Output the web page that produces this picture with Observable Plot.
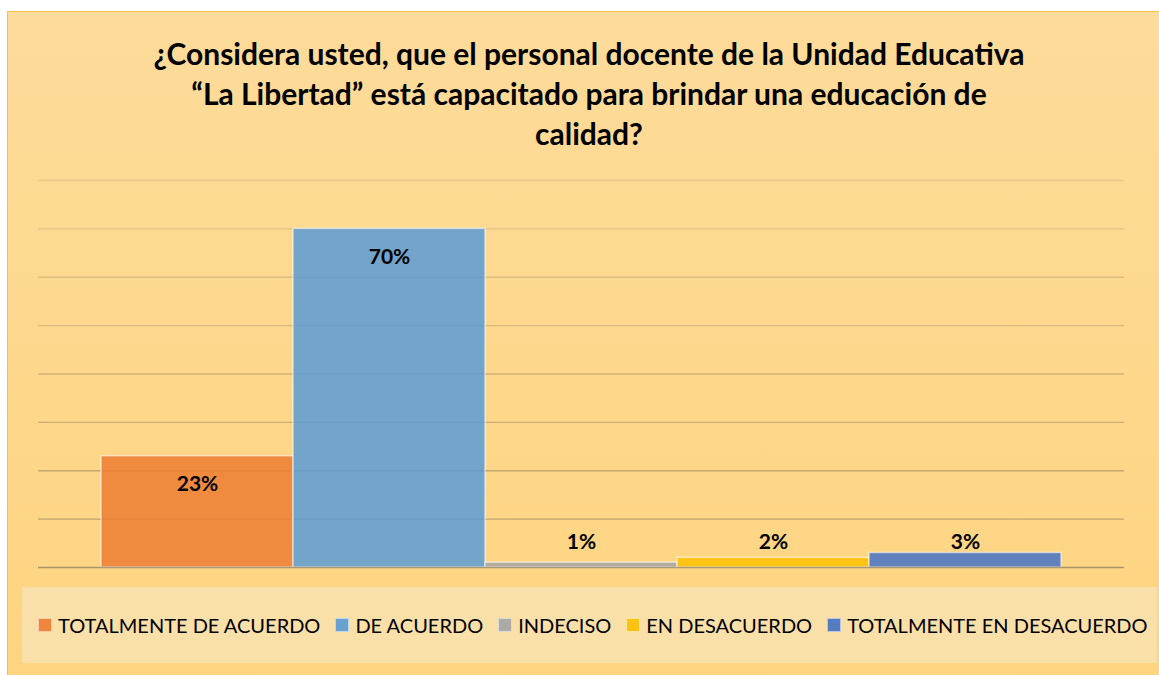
<!DOCTYPE html>
<html><head><meta charset="utf-8">
<script src="https://cdn.jsdelivr.net/npm/d3@7"></script>
<script src="https://cdn.jsdelivr.net/npm/@observablehq/plot@0.6"></script>
<style>
body{margin:0;background:#fff;width:1159px;height:675px;overflow:hidden;position:relative;font-family:Lato,"Open Sans",sans-serif}
#frame{position:absolute;left:7px;top:11px;width:1170px;height:680px;border:1.5px solid #f5c343;background:linear-gradient(#fddb9a,#fed47f);box-sizing:border-box}
#title{position:absolute;left:0;top:33px;width:1178px;text-align:center;font-weight:700;font-size:30px;line-height:40px;color:#000}
#chart{position:absolute;left:0;top:160px}
#legend{position:absolute;left:22px;top:587px;width:1135px;height:76px;background:#f9dfa8;display:flex;align-items:center;padding-left:16px;box-sizing:border-box;font-size:20px;color:#000}
.item{display:flex;align-items:center;margin-right:15px;white-space:nowrap}
.sw{width:12px;height:12px;margin-right:6px;border:1px solid rgba(255,255,255,0.6)}
</style></head>
<body>
<div id="frame"></div>
<div id="title">¿Considera usted, que el personal docente de la Unidad Educativa<br>“La Libertad” está capacitado para brindar una educación de<br>calidad?</div>
<div id="chart"></div>
<div id="legend"></div>
<script>
const categories = ["TOTALMENTE DE ACUERDO","DE ACUERDO","INDECISO","EN DESACUERDO","TOTALMENTE EN DESACUERDO"];
const values = [23, 70, 1, 2, 3];
const labels = ["23%","70%","1%","2%","3%"];
const colors = ["#ed7d31","#5b9bd5","#a5a5a5","#ffc000","#4472c4"];
const gridTicks = [10,20,30,40,50,60,70,80];

const data = categories.map((c,i)=>({cat:c, value:values[i], label:labels[i]}));

const plot = Plot.plot({
  width:1159, height:420,
  marginLeft:38, marginRight:35, marginTop:20, marginBottom:13,
  x:{domain:categories, paddingInner:0, paddingOuter:0.328, axis:null},
  y:{domain:[0,80], axis:null},
  color:{domain:categories, range:colors},
  style:{background:"transparent", overflow:"visible"},
  marks:[
    Plot.ruleY(gridTicks, {y:d=>d, stroke:"#8c7d5c", strokeOpacity:d=>0.18 + 0.45*(1-d/80), strokeWidth:1.3}),
    Plot.barY(data, {x:"cat", y:"value", fill:"cat", fillOpacity:0.85, stroke:"#fff", strokeOpacity:0.55, strokeWidth:1.5}),
    Plot.ruleY([0], {stroke:"#8c7d5c", strokeOpacity:0.75, strokeWidth:1.3}),
    Plot.text(data.filter(d=>d.value>=10), {x:"cat", y:"value", text:"label", dy:28, fontWeight:"bold", fontSize:21, fill:"#000", fontFamily:"Lato"}),
    Plot.text(data.filter(d=>d.value<10), {x:"cat", text:"label", frameAnchor:"bottom", dy:-19, fontWeight:"bold", fontSize:21, fill:"#000", fontFamily:"Lato"})
  ]
});
document.getElementById("chart").appendChild(plot);

const leg = document.getElementById("legend");
categories.forEach((c,i)=>{
  const it = document.createElement("div"); it.className="item";
  const sw = document.createElement("div"); sw.className="sw"; sw.style.background=colors[i]; sw.style.opacity=0.9;
  const tx = document.createElement("span"); tx.textContent=c;
  it.appendChild(sw); it.appendChild(tx); leg.appendChild(it);
});
</script>
</body></html>
